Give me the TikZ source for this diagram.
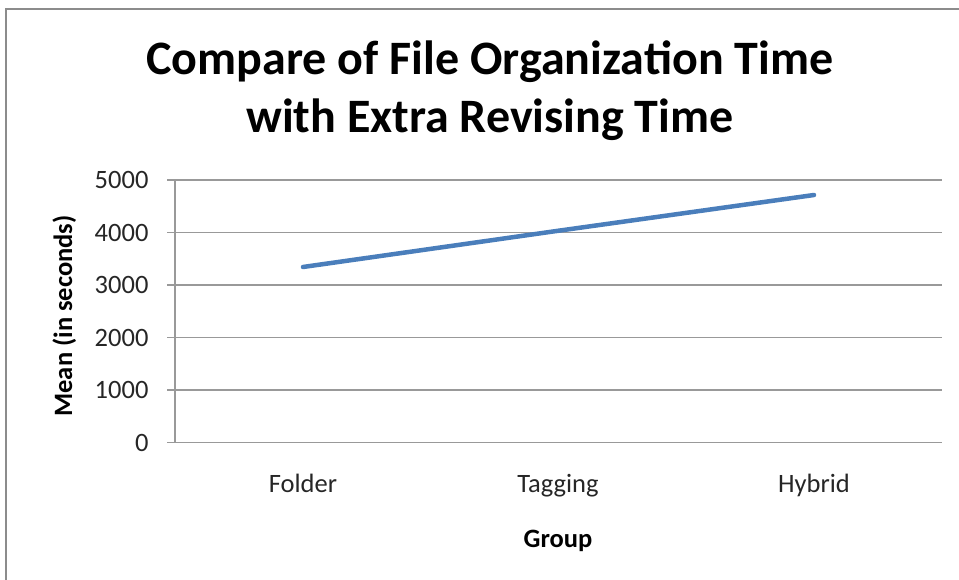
\documentclass[tikz,border=0pt]{standalone}
\usepackage{fontspec}
\setmainfont{Carlito}
\begin{document}
\begin{tikzpicture}[x=1pt, y=-1pt,
    grid/.style={draw=black!40, line width=1.3pt},
    tick/.style={anchor=east, font=\fontsize{26.5}{30}\selectfont, text=black!85},
    cat/.style={anchor=base, font=\fontsize{26.5}{30}\selectfont, text=black!85},
    axtitle/.style={anchor=base, font=\bfseries\fontsize{26.5}{30}\selectfont},
    series/.style={draw=serieblue, line width=4.5pt, line cap=round}
]
    \definecolor{serieblue}{HTML}{4A7EBB}
    \useasboundingbox (0,0) rectangle (959,580);

    % frame of the chart area
    \draw[black!45, line width=2pt] (6,600) -- (6,9) -- (980,9);

    \node[font=\bfseries\fontsize{48}{58}\selectfont, align=center] (title) at (490,91)
        {Compare of File Organization Time\\with Extra Revising Time};

    % gridlines and ticks
    \draw[grid] (167,180) -- (942,180);
    \draw[grid] (167,232.5) -- (942,232.5);
    \draw[grid] (167,285) -- (942,285);
    \draw[grid] (167,337.5) -- (942,337.5);
    \draw[grid] (167,390) -- (942,390);
    \draw[grid] (167,442.5) -- (942,442.5);
    \draw[grid] (175,180) -- (175,442.5);

    \node[tick] (t5) at (152,180) {5000};
    \node[tick] (t4) at (152,232.5) {4000};
    \node[tick] (t3) at (152,285) {3000};
    \node[tick] (t2) at (152,337.5) {2000};
    \node[tick] (t1) at (152,390) {1000};
    \node[tick] (t0) at (152,442.5) {0};

    \node[cat] (folder) at (303,492) {Folder};
    \node[cat] (tagging) at (558,492) {Tagging};
    \node[cat] (hybrid) at (814,492) {Hybrid};

    \node[axtitle] (xlabel) at (558,547) {Group};
    \node[axtitle, rotate=90] (ylabel) at (72,316) {Mean (in seconds)};

    % data points
    \coordinate (pf) at (303,267);
    \coordinate (pt) at (558,230.8);
    \coordinate (ph) at (814,195);
    \draw[series] (pf) -- (pt) -- (ph);
\end{tikzpicture}
\end{document}
